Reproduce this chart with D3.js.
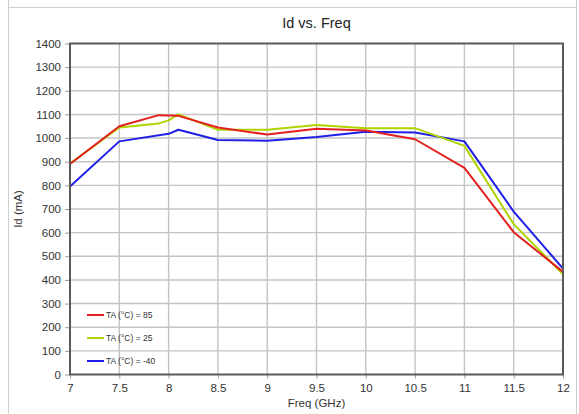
<!DOCTYPE html>
<html>
<head>
<meta charset="utf-8">
<script src="https://cdn.jsdelivr.net/npm/d3@7"></script>
<style>
  html, body { margin: 0; padding: 0; background: #fff; }
  svg { display: block; font-family: "Liberation Sans", Arial, sans-serif; }
</style>
</head>
<body>
<svg id="chart" width="579" height="414"></svg>
<script>
// Drain current vs. frequency at three ambient temperatures
const xTicks = [7, 7.5, 8, 8.5, 9, 9.5, 10, 10.5, 11, 11.5, 12];
const yTicks = [0, 100, 200, 300, 400, 500, 600, 700, 800, 900, 1000, 1100, 1200, 1300, 1400];

const seriesNames = ["TA (°C) = 85", "TA (°C) = 25", "TA (°C) = -40"];
const seriesColors = ["#e3201f", "#b0d400", "#1f1fe8"];

const freq85 = [7, 7.5, 7.9, 8.1, 8.5, 9, 9.5, 10, 10.5, 11, 11.5, 12];
const id85   = [890, 1050, 1097, 1094, 1045, 1015, 1039, 1032, 995, 874, 602, 434];

const freq25 = [7, 7.5, 7.9, 8.0, 8.1, 8.5, 9, 9.5, 10, 10.5, 11, 11.5, 12];
const id25   = [892, 1045, 1062, 1075, 1100, 1035, 1035, 1055, 1042, 1042, 967, 636, 424];

const freqM40 = [7, 7.5, 8.0, 8.1, 8.5, 9, 9.5, 10, 10.5, 11, 11.5, 12];
const idM40   = [795, 986, 1018, 1035, 992, 989, 1005, 1027, 1024, 986, 689, 448];

const freqs = [freq85, freq25, freqM40];
const values = [id85, id25, idM40];

const svg = d3.select("#chart");
const plot = { left: 70, top: 43.5, right: 563, bottom: 374.5 };

// Page frame
svg.append("line").attr("x1", 8.5).attr("x2", 8.5).attr("y1", 0).attr("y2", 414)
  .attr("stroke", "#cfcfcf").attr("stroke-width", 1);
svg.append("line").attr("x1", 576.5).attr("x2", 576.5).attr("y1", 0).attr("y2", 414)
  .attr("stroke", "#cfcfcf").attr("stroke-width", 1);
svg.append("line").attr("x1", 8.5).attr("x2", 576.5).attr("y1", 7.5).attr("y2", 7.5)
  .attr("stroke", "#cfcfcf").attr("stroke-width", 1);

const x = d3.scaleLinear().domain([7, 12]).range([plot.left, plot.right]);
const y = d3.scaleLinear().domain([0, 1400]).range([plot.bottom, plot.top]);

// Grid
const grid = svg.append("g");
grid.selectAll("line.v").data(xTicks.slice(1, -1)).join("line")
  .attr("x1", d => x(d)).attr("x2", d => x(d))
  .attr("y1", plot.top).attr("y2", plot.bottom)
  .attr("stroke", "#c4c4c4").attr("stroke-width", 1.4);
grid.selectAll("line.h").data(yTicks.slice(1, -1)).join("line")
  .attr("x1", plot.left).attr("x2", plot.right)
  .attr("y1", d => y(d)).attr("y2", d => y(d))
  .attr("stroke", "#c4c4c4").attr("stroke-width", 1.4);

// Axes
const yAxis = svg.append("g").attr("transform", `translate(${plot.left},0)`)
  .call(d3.axisLeft(y).tickValues(yTicks).tickSize(5).tickPadding(4).tickFormat(d3.format("d")));
const xAxis = svg.append("g").attr("transform", `translate(0,${plot.bottom})`)
  .call(d3.axisBottom(x).tickValues(xTicks).tickSize(4).tickPadding(5).tickFormat(d => d));
[yAxis, xAxis].forEach(a => {
  a.select(".domain").remove();
  a.selectAll(".tick line").attr("stroke", "#9a9a9a").attr("stroke-width", 1);
  a.selectAll(".tick text").attr("fill", "#333").style("font-size", "11.5px")
    .style("font-family", "'Liberation Sans', Arial, sans-serif");
});

// Series lines
const line = d3.line().x(d => x(d[0])).y(d => y(d[1]));
const plotArea = svg.append("g");
[2, 1, 0].forEach(i => {
  const pts = freqs[i].map((f, k) => [f, values[i][k]]);
  plotArea.append("path").datum(pts)
    .attr("d", line)
    .attr("fill", "none")
    .attr("stroke", seriesColors[i])
    .attr("stroke-width", 2)
    .attr("stroke-linejoin", "round");
});

// Plot border
svg.append("rect")
  .attr("x", plot.left).attr("y", plot.top)
  .attr("width", plot.right - plot.left).attr("height", plot.bottom - plot.top)
  .attr("fill", "none").attr("stroke", "#5a5a5a").attr("stroke-width", 2);

// Legend
const legend = svg.append("g");
const legendY = [315, 338, 361];
seriesNames.forEach((name, i) => {
  legend.append("line")
    .attr("x1", 87).attr("x2", 104)
    .attr("y1", legendY[i]).attr("y2", legendY[i])
    .attr("stroke", seriesColors[i]).attr("stroke-width", 2);
  legend.append("text")
    .attr("x", 106).attr("y", legendY[i]).attr("dy", "0.35em")
    .attr("fill", "#333").style("font-size", "8.5px")
    .text(name);
});

// Titles
svg.append("text")
  .attr("x", (plot.left + plot.right) / 2).attr("y", 28)
  .attr("text-anchor", "middle").attr("fill", "#222").style("font-size", "14.5px")
  .text("Id  vs. Freq");
svg.append("text")
  .attr("x", (plot.left + plot.right) / 2).attr("y", 407)
  .attr("text-anchor", "middle").attr("fill", "#333").style("font-size", "11.5px")
  .text("Freq (GHz)");
svg.append("text")
  .attr("transform", `translate(22,${(plot.top + plot.bottom) / 2}) rotate(-90)`)
  .attr("text-anchor", "middle").attr("fill", "#333").style("font-size", "11.5px")
  .text("Id (mA)");
</script>
</body>
</html>
